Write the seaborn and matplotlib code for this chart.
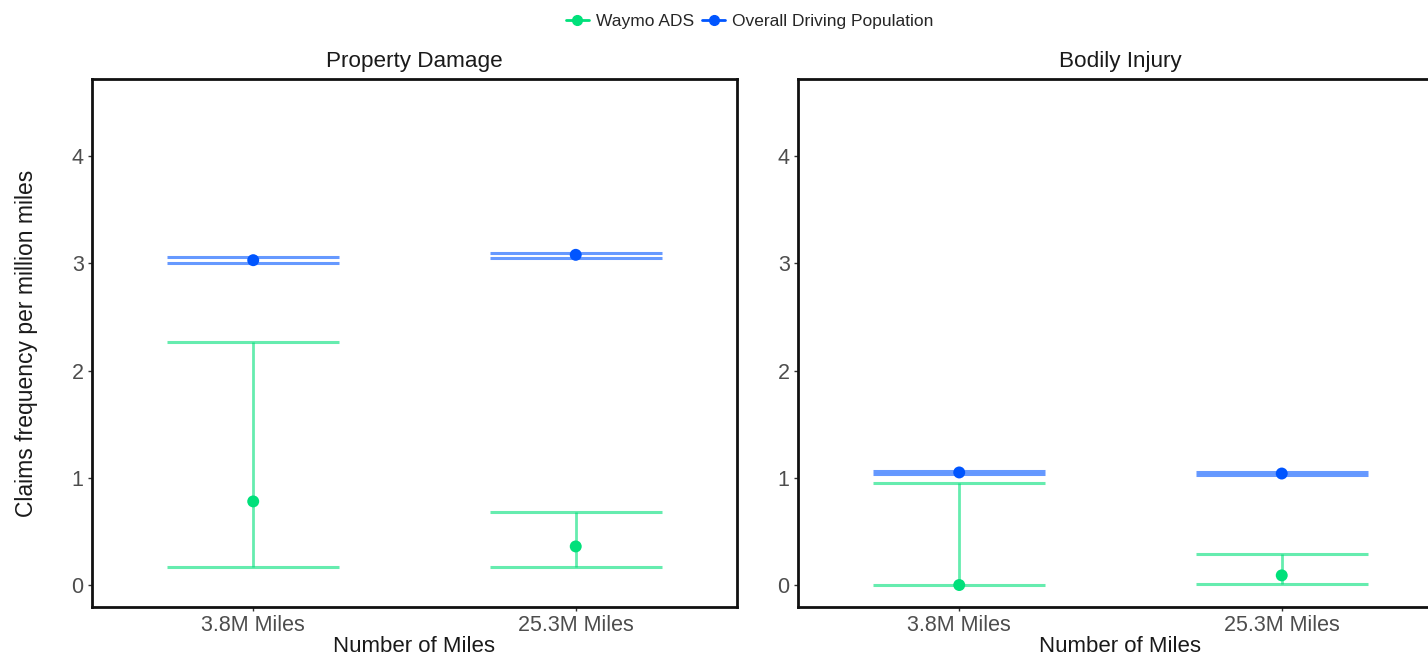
import matplotlib
matplotlib.use("Agg")
import matplotlib.pyplot as plt
from matplotlib.lines import Line2D
import seaborn as sns
import pandas as pd

# data
panels = ["Property Damage", "Bodily Injury"]
miles = ["3.8M Miles", "25.3M Miles"]
groups = ["Waymo ADS", "Overall Driving Population"]

# [panel][group][miles]
estimate = {
    "Property Damage": {"Waymo ADS": [0.78, 0.36], "Overall Driving Population": [3.03, 3.08]},
    "Bodily Injury": {"Waymo ADS": [0.00, 0.09], "Overall Driving Population": [1.05, 1.04]},
}
lower = {
    "Property Damage": {"Waymo ADS": [0.17, 0.17], "Overall Driving Population": [3.00, 3.05]},
    "Bodily Injury": {"Waymo ADS": [0.00, 0.01], "Overall Driving Population": [1.04, 1.03]},
}
upper = {
    "Property Damage": {"Waymo ADS": [2.27, 0.68], "Overall Driving Population": [3.06, 3.10]},
    "Bodily Injury": {"Waymo ADS": [0.95, 0.29], "Overall Driving Population": [1.06, 1.05]},
}

colors = {"Waymo ADS": "#00E07A", "Overall Driving Population": "#0055FF"}

rows = []
for p in panels:
    for g in groups:
        for i, m in enumerate(miles):
            rows.append(dict(panel=p, group=g, miles=m,
                             est=estimate[p][g][i], lo=lower[p][g][i], hi=upper[p][g][i]))
df = pd.DataFrame(rows)

sns.set_style("white")
plt.rcParams["font.family"] = ["Liberation Sans", "DejaVu Sans"]

fig = plt.figure(figsize=(14.28, 6.6), dpi=100)
ax_pos = [[0.0644, 0.0803, 0.4517, 0.80], [0.5588, 0.0803, 0.4517, 0.80]]
cap = 0.267

for k, p in enumerate(panels):
    ax = fig.add_axes(ax_pos[k])
    sub = df[df.panel == p]
    for g in groups:
        d = sub[sub.group == g]
        xs = [miles.index(m) for m in d.miles]
        ax.vlines(xs, d.lo, d.hi, color=colors[g], lw=2, alpha=0.6, zorder=2)
        ax.hlines(d.lo, [x - cap for x in xs], [x + cap for x in xs], color=colors[g], lw=2.2, alpha=0.6, zorder=2)
        ax.hlines(d.hi, [x - cap for x in xs], [x + cap for x in xs], color=colors[g], lw=2.2, alpha=0.6, zorder=2)
    sns.stripplot(data=sub, x="miles", y="est", hue="group", order=miles, hue_order=groups,
                  palette=colors, jitter=False, dodge=False, size=8.6, linewidth=0,
                  legend=False, ax=ax, zorder=3)
    ax.set_xlim(-0.5, 1.5)
    ax.set_ylim(-0.205, 4.72)
    ax.set_yticks([0, 1, 2, 3, 4])
    ax.set_title(p, fontsize=16.2, pad=9, color="#1a1a1a")
    ax.set_xlabel("Number of Miles", fontsize=16, color="#1a1a1a", labelpad=0)
    if k == 0:
        ax.set_ylabel("Claims frequency per million miles", fontsize=16.5, color="#1a1a1a", labelpad=24)
    else:
        ax.set_ylabel("")
    ax.tick_params(axis="both", length=3, width=1, color="#333333", labelcolor="#4D4D4D",
                   labelsize=15.5, pad=3, left=True, bottom=True)
    for s in ax.spines.values():
        s.set_visible(True)
        s.set_color("#111111")
        s.set_linewidth(2)

handles = [Line2D([0], [0], color=colors[g], marker="o", markersize=7, lw=2) for g in groups]
fig.legend(handles, groups, loc="center", bbox_to_anchor=(0.525, 0.968), ncol=2, frameon=False,
           fontsize=12.5, handlelength=1.3, handletextpad=0.4, columnspacing=0.5)

fig.savefig("out.png", dpi=100)
